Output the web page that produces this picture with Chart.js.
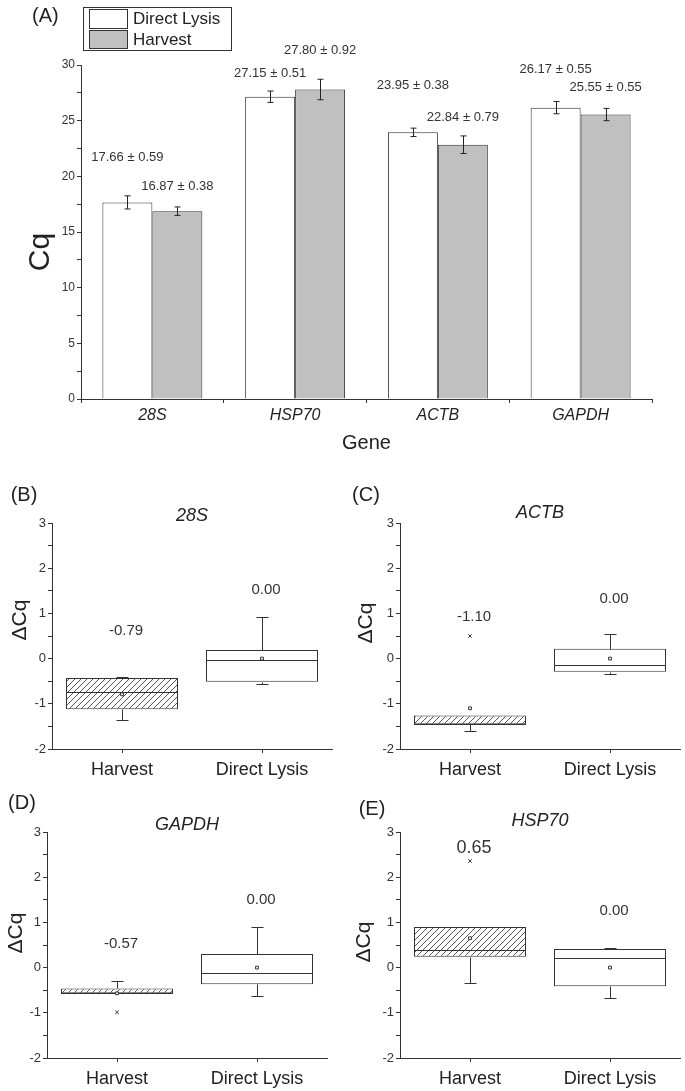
<!DOCTYPE html>
<html>
<head>
<meta charset="utf-8">
<script src="https://cdn.jsdelivr.net/npm/chart.js@4.4.0/dist/chart.umd.min.js"></script>
<style>
body { margin: 0; background: #fff; }
#wrap { position: relative; width: 685px; height: 1091px; }
canvas { position: absolute; }
</style>
</head>
<body>
<div id="wrap">
  <canvas id="chartA" width="685" height="475" style="left:0px;top:0px"></canvas>
  <canvas id="chartB" width="342" height="305" style="left:0px;top:478px"></canvas>
  <canvas id="chartC" width="343" height="305" style="left:342px;top:478px"></canvas>
  <canvas id="chartD" width="342" height="306" style="left:0px;top:785px"></canvas>
  <canvas id="chartE" width="343" height="306" style="left:342px;top:785px"></canvas>
</div>
<script>
const FONT = '"Liberation Sans", Arial, Helvetica, sans-serif';
Chart.defaults.font.family = FONT;
Chart.defaults.color = '#222';
Chart.defaults.animation = false;
Chart.defaults.events = [];
Chart.defaults.plugins.legend.display = false;
Chart.defaults.plugins.tooltip.enabled = false;

// ---- panel A: mean Cq ± SD ----
const genes = ['28S', 'HSP70', 'ACTB', 'GAPDH'];
const cqDirect = [17.66, 27.15, 23.95, 26.17];
const sdDirect = [0.59, 0.51, 0.38, 0.55];
const cqHarvest = [16.87, 27.80, 22.84, 25.55];
const sdHarvest = [0.38, 0.92, 0.79, 0.55];
// Cq level where each "mean ± sd" caption sits
const capDirect = [21.7, 29.2, 28.2, 29.6];
const capHarvest = [19.1, 31.3, 25.3, 28.0];

// ---- panels B-E: delta Cq box plots ----
// each row: [min, q1, median, q3, max] for Harvest, Direct Lysis
const groups = ['Harvest', 'Direct Lysis'];
const box28S = [[-1.35, -1.12, -0.73, -0.43, -0.41], [-0.57, -0.51, -0.04, 0.19, 0.92]];
const mean28S = [-0.79, 0.00];
const out28S = [[], []];
const lvl28S = [0.61, 1.53];

const boxACTB = [[-1.61, -1.45, -1.45, -1.26, -1.26], [-0.33, -0.29, -0.15, 0.22, 0.54]];
const meanACTB = [-1.10, 0.00];
const outACTB = [[0.50], []];
const lvlACTB = [0.92, 1.32];

const boxGAPDH = [[-0.57, -0.57, -0.57, -0.46, -0.30], [-0.62, -0.37, -0.11, 0.30, 0.90]];
const meanGAPDH = [-0.57, 0.00];
const outGAPDH = [[-0.99], []];
const lvlGAPDH = [0.52, 1.49];

const boxHSP70 = [[-0.35, 0.24, 0.38, 0.90, 0.90], [-0.68, -0.41, 0.21, 0.41, 0.44]];
const meanHSP70 = [0.65, 0.00];
const outHSP70 = [[2.36], []];
const lvlHSP70 = [2.64, 1.25];

function hatch(ctx) {
  const c = document.createElement('canvas');
  c.width = 6; c.height = 6;
  const g = c.getContext('2d');
  g.fillStyle = '#fff';
  g.fillRect(0, 0, 6, 6);
  g.strokeStyle = '#555';
  g.lineWidth = 1;
  g.beginPath();
  g.moveTo(0, 6); g.lineTo(6, 0);
  g.moveTo(-1, 1); g.lineTo(1, -1);
  g.moveTo(5, 7); g.lineTo(7, 5);
  g.stroke();
  return ctx.createPattern(c, 'repeat');
}

const axisGrid = {
  display: true,
  drawOnChartArea: false,
  drawTicks: true,
  tickLength: 4,
  tickColor: '#333'
};
const axisBorder = { display: true, color: '#333', width: 1 };

// panel A
const panelA = {
  id: 'panelA',
  afterDatasetsDraw(chart) {
    const ctx = chart.ctx, ys = chart.scales.y;
    const sets = [[cqDirect, sdDirect, capDirect], [cqHarvest, sdHarvest, capHarvest]];
    ctx.save();
    ctx.strokeStyle = '#222';
    ctx.lineWidth = 1;
    ctx.fillStyle = '#333';
    ctx.font = '13px ' + FONT;
    ctx.textAlign = 'center';
    ctx.textBaseline = 'middle';
    sets.forEach(([val, sd, cap], d) => {
      chart.getDatasetMeta(d).data.forEach((bar, i) => {
        const x = Math.round(bar.x) + 0.5;
        const hi = ys.getPixelForValue(val[i] + sd[i]);
        const lo = ys.getPixelForValue(val[i] - sd[i]);
        ctx.beginPath();
        ctx.moveTo(x, hi); ctx.lineTo(x, lo);
        ctx.moveTo(x - 3, hi); ctx.lineTo(x + 3, hi);
        ctx.moveTo(x - 3, lo); ctx.lineTo(x + 3, lo);
        ctx.stroke();
        ctx.fillText(val[i].toFixed(2) + ' \u00b1 ' + sd[i].toFixed(2), bar.x, ys.getPixelForValue(cap[i]));
      });
    });
    ctx.restore();
  },
  afterDraw(chart) {
    const ctx = chart.ctx;
    const ds = chart.data.datasets;
    ctx.save();
    ctx.lineWidth = 1;
    ctx.strokeStyle = '#333';
    ctx.strokeRect(83.5, 7.5, 148, 43);
    ctx.fillStyle = ds[0].backgroundColor;
    ctx.fillRect(89.5, 9.5, 38, 19);
    ctx.strokeRect(89.5, 9.5, 38, 19);
    ctx.fillStyle = ds[1].backgroundColor;
    ctx.fillRect(89.5, 30.5, 38, 18);
    ctx.strokeRect(89.5, 30.5, 38, 18);
    ctx.fillStyle = '#222';
    ctx.font = '17px ' + FONT;
    ctx.textBaseline = 'middle';
    ctx.fillText(ds[0].label, 133, 19);
    ctx.fillText(ds[1].label, 133, 40);
    ctx.font = '20px ' + FONT;
    ctx.fillText('(A)', 32, 16);
    ctx.translate(41, 252);
    ctx.rotate(-Math.PI / 2);
    ctx.textAlign = 'center';
    ctx.font = '30px ' + FONT;
    ctx.fillText('Cq', 0, 0);
    ctx.restore();
  }
};

new Chart(document.getElementById('chartA'), {
  type: 'bar',
  data: {
    labels: genes,
    datasets: [
      { label: 'Direct Lysis', data: cqDirect, backgroundColor: '#ffffff', borderColor: '#333', borderWidth: 1 },
      { label: 'Harvest', data: cqHarvest, backgroundColor: '#c0c0c0', borderColor: '#333', borderWidth: 1 }
    ]
  },
  options: {
    responsive: false,
    categoryPercentage: 0.7,
    barPercentage: 1.0,
    layout: { padding: { left: 0, right: 33, top: 65, bottom: 0 } },
    scales: {
      x: {
        grid: Object.assign({}, axisGrid, { offset: true }),
        border: axisBorder,
        ticks: { font: { size: 16, style: 'italic' }, color: '#222', padding: 3 },
        title: { display: true, text: 'Gene', font: { size: 20 }, color: '#222', padding: { top: 0, bottom: 20 } },
        afterFit(s) { s.height = 76; }
      },
      y: {
        min: 0, max: 30,
        grid: axisGrid,
        border: axisBorder,
        ticks: { stepSize: 2.5, font: { size: 12 }, color: '#333', padding: 2,
          callback: v => (v % 5 === 0 ? v : '') },
        afterFit(s) { s.width = 81; }
      }
    }
  },
  plugins: [panelA]
});

function boxChart(id, gene, box, means, outs, lvls, lay) {
  const canvas = document.getElementById(id);
  const ctx = canvas.getContext('2d');
  const outliers = [];
  outs.forEach((list, g) => list.forEach(v => outliers.push({ x: groups[g], y: v })));

  const parts = {
    id: 'boxParts',
    afterDatasetDraw(chart, args) {
      if (args.index !== 0) return;
      const c = chart.ctx, ys = chart.scales.y;
      c.save();
      c.strokeStyle = '#333';
      c.lineWidth = 1;
      chart.getDatasetMeta(0).data.forEach((bar, i) => {
        const [mn, q1, md, q3, mx] = box[i];
        const x = Math.round(bar.x) + 0.5;
        const half = bar.width / 2;
        const yp = v => Math.round(ys.getPixelForValue(v)) + 0.5;
        c.beginPath();
        c.moveTo(bar.x - half, yp(md)); c.lineTo(bar.x + half, yp(md));
        if (mx > q3) {
          c.moveTo(x, yp(q3)); c.lineTo(x, yp(mx));
          c.moveTo(x - 6, yp(mx)); c.lineTo(x + 6, yp(mx));
        }
        if (mn < q1) {
          c.moveTo(x, yp(q1)); c.lineTo(x, yp(mn));
          c.moveTo(x - 6, yp(mn)); c.lineTo(x + 6, yp(mn));
        }
        c.stroke();
      });
      c.restore();
    },
    afterDraw(chart) {
      const c = chart.ctx, xs = chart.scales.x, ys = chart.scales.y;
      c.save();
      c.fillStyle = '#333';
      c.textAlign = 'center';
      c.textBaseline = 'middle';
      means.forEach((m, i) => {
        c.font = lay.labelSize[i] + 'px ' + FONT;
        c.fillText(m.toFixed(2), xs.getPixelForValue(i) + 4, ys.getPixelForValue(lvls[i]));
      });
      c.fillStyle = '#222';
      c.font = '20px ' + FONT;
      c.fillText(lay.letter, lay.letterX, lay.letterY);
      c.translate(lay.dqX, lay.dqY);
      c.rotate(-Math.PI / 2);
      c.font = '21px ' + FONT;
      c.fillText('\u0394Cq', 0, 0);
      c.restore();
    }
  };

  return new Chart(canvas, {
    type: 'bar',
    data: {
      labels: groups,
      datasets: [
        {
          type: 'bar', order: 2,
          data: box.map(b => [b[1], b[3]]),
          backgroundColor: [hatch(ctx), '#ffffff'],
          borderColor: '#333', borderWidth: 1, borderSkipped: false,
          barPercentage: 0.8, categoryPercentage: 1.0
        },
        {
          type: 'line', order: 1, data: means, showLine: false,
          pointStyle: 'rect', pointRadius: 2, pointBackgroundColor: '#fff',
          pointBorderColor: '#333', pointBorderWidth: 1
        },
        {
          type: 'line', order: 1, data: outliers, showLine: false,
          pointStyle: 'crossRot', pointRadius: 2.5,
          pointBorderColor: '#333', pointBorderWidth: 1
        }
      ]
    },
    options: {
      responsive: false,
      layout: { padding: { left: 0, right: lay.right, top: lay.top, bottom: 0 } },
      plugins: {
        title: {
          display: true, text: gene, fullSize: false, color: '#222',
          font: { size: 18, style: 'italic', weight: 'normal', lineHeight: 0.8 },
          padding: { top: 0, bottom: lay.titlePad }
        }
      },
      scales: {
        x: {
          offset: true,
          grid: Object.assign({}, axisGrid, { offset: false }),
          border: axisBorder,
          ticks: { font: { size: 18 }, color: '#222', padding: 6 },
          afterFit(s) { s.height = lay.xh; }
        },
        y: {
          min: -2, max: 3,
          grid: axisGrid,
          border: axisBorder,
          ticks: { stepSize: 0.5, font: { size: 13 }, color: '#333', padding: 2,
            callback: v => (Number.isInteger(v) ? v : '') },
          afterFit(s) { s.width = lay.yw; }
        }
      }
    },
    plugins: [parts]
  });
}

boxChart('chartB', '28S', box28S, mean28S, out28S, lvl28S,
  { yw: 52, right: 10, top: 45 - 14.4 - 0, titlePad: 0, xh: 34, labelSize: [15, 15],
    letter: '(B)', letterX: 24, letterY: 17, dqX: 20, dqY: 142 });
boxChart('chartC', 'ACTB', boxACTB, meanACTB, outACTB, lvlACTB,
  { yw: 58, right: 5, top: 45 - 14.4 - 3, titlePad: 3, xh: 34, labelSize: [15, 15],
    letter: '(C)', letterX: 24, letterY: 17, dqX: 24, dqY: 145 });
boxChart('chartD', 'GAPDH', boxGAPDH, meanGAPDH, outGAPDH, lvlGAPDH,
  { yw: 47, right: 15, top: 47 - 14.4 - 0, titlePad: 0, xh: 33, labelSize: [15, 15],
    letter: '(D)', letterX: 22, letterY: 18, dqX: 16, dqY: 148 });
boxChart('chartE', 'HSP70', boxHSP70, meanHSP70, outHSP70, lvlHSP70,
  { yw: 58, right: 5, top: 47 - 14.4 - 4, titlePad: 4, xh: 33, labelSize: [18, 15],
    letter: '(E)', letterX: 30, letterY: 24, dqX: 22, dqY: 157 });
</script>
</body>
</html>
